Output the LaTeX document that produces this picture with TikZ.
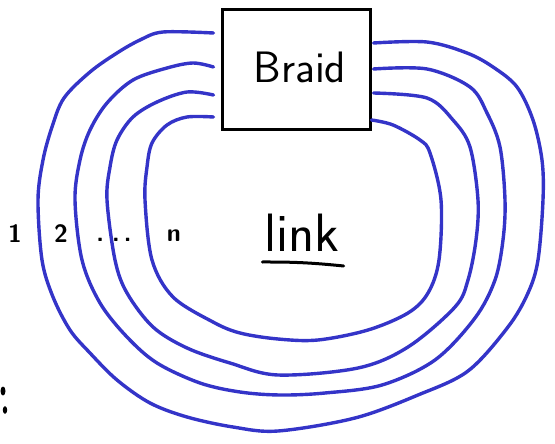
\documentclass[tikz,border=0pt]{standalone}
\usetikzlibrary{calc}
\definecolor{pen}{RGB}{52,52,200}
\tikzset{
  strand/.style={draw=pen,line width=3.4pt,line cap=round,line join=round},
  boxst/.style={draw=black,line width=3pt,minimum width=148pt,minimum height=120pt,inner sep=0pt},
  lbl/.style={font=\sffamily\fontsize{25}{27}\selectfont\bfseries,inner sep=0pt,anchor=base},
}
\begin{document}
\begin{tikzpicture}[x=1pt,y=-1pt]
\useasboundingbox (0,0) rectangle (555,444);
\node[boxst] (braid) at (296,70) {};
\node[font=\sffamily\fontsize{44}{48}\selectfont,inner sep=0pt,anchor=base] (bt) at (300,83) {Braid};
% strand ends on box sides
\coordinate (l0) at ($(braid.west)+(-7,-37)$);
\coordinate (l1) at ($(braid.west)+(-7,-3)$);
\coordinate (l2) at ($(braid.west)+(-7,25)$);
\coordinate (l3) at ($(braid.west)+(-7,47)$);
\coordinate (r0) at ($(braid.east)+(2,-27)$);
\coordinate (r1) at ($(braid.east)+(2,-1)$);
\coordinate (r2) at ($(braid.east)+(2,23)$);
\coordinate (r3) at ($(braid.east)+(0,50)$);
% loops
\draw[strand] plot[smooth,tension=0.55] coordinates {(l0) (163,32) (140,40) (117,53) (90,72) (64,98) (52,127) (43,160) (38,200) (42,260) (53,297) (70,330) (90,353) (117,380) (150,403) (187,417) (233,427) (278,431) (355,418) (418,395) (468,371) (508,327) (528,293) (538,260) (543,200) (542,160) (533,120) (517,87) (493,67) (467,53) (427,42) (r0)};
\draw[strand] plot[smooth,tension=0.55] coordinates {(l1) (193,63) (167,68) (133,80) (107,103) (90,130) (80,160) (75,200) (82,260) (100,303) (127,337) (157,363) (200,383) (240,392) (280,395) (325,393) (382,385) (435,360) (475,318) (495,280) (503,240) (505,200) (500,147) (487,113) (470,87) (427,69) (r1)};
\draw[strand] plot[smooth,tension=0.55] coordinates {(l2) (187,92) (157,102) (133,117) (117,140) (110,167) (107,200) (115,260) (127,293) (153,327) (187,348) (230,363) (278,375) (358,368) (408,347) (455,307) (468,280) (476,240) (478,200) (470,147) (453,120) (427,98) (r2)};
\draw[strand] plot[smooth,tension=0.55] coordinates {(l3) (187,117) (167,125) (152,143) (147,167) (145,200) (152,260) (173,297) (213,322) (240,333) (278,339) (318,340) (368,330) (408,313) (428,293) (439,260) (441,200) (430,153) (420,140) (393,125) (r3)};
% labels
\node[lbl] (n1) at (15,242) {1};
\node[lbl] (n2) at (61,242) {2};
\node[lbl] (dots) at (114,241) {.\hspace{8pt}.\,.};
\node[lbl] (nn) at (174,241) {n};
\node[font=\sffamily\fontsize{54}{58}\selectfont,inner sep=0pt,anchor=base] (link) at (302,251) {link};
\draw[line width=3pt,line cap=round] ($(link.base west)+(-2,11)$) to[bend left=3] ($(link.base east)+(4,15)$);
\fill (3,391) ellipse (2.5 and 4.5);
\fill (5,410) ellipse (2.2 and 3.8);
\end{tikzpicture}
\end{document}
